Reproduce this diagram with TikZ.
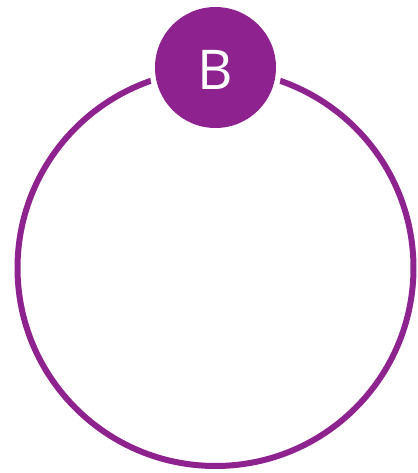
\documentclass[tikz,border=0pt]{standalone}
\usepackage{fontspec}
\setmainfont{Open Sans}
\usetikzlibrary{positioning}
\definecolor{plum600}{HTML}{8E2390}
\tikzset{
  ring/.style={
    circle, draw=plum600, line width=0.3cm,
    minimum size=19.8cm, inner sep=0pt
  },
  badge/.style={
    circle, fill=plum600, inner sep=0pt,
    minimum size=6.05cm, text=white,
    preaction={draw=white, line width=0.55cm},
    font=\fontsize{78}{78}\selectfont
  },
}

\begin{document}
\begin{tikzpicture}[x=0.05cm, y=-0.05cm]
  \useasboundingbox (0,0) rectangle (417,473);
  \node[ring] (outer) at (215.5,268) {};
  \node[badge] (letter) at (215.5,67.5) {};
  \node[text=white, inner sep=0pt, font=\fontsize{78}{78}\selectfont] (label) at (215.5,70) {B};
\end{tikzpicture}
\end{document}
